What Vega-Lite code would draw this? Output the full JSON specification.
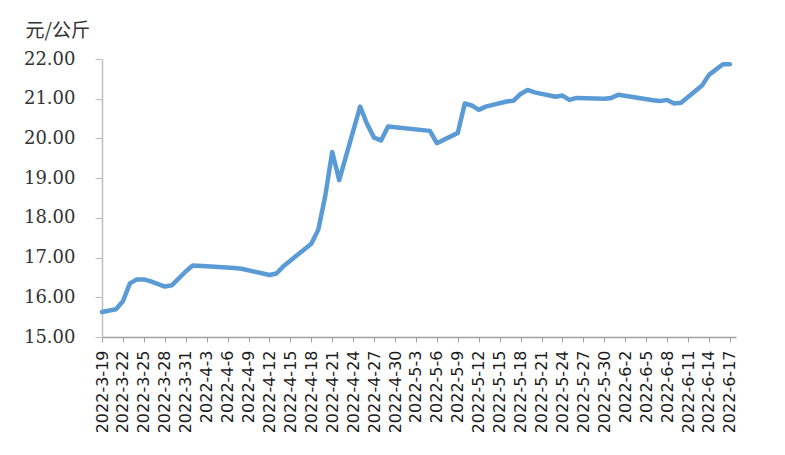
{
  "$schema": "https://vega.github.io/schema/vega-lite/v6.json",
  "autosize": {"type": "none"},
  "padding": {"left": 102, "top": 59, "right": 49, "bottom": 118},
  "width": 634,
  "height": 278,
  "background": "white",
  "config": {"view": {"stroke": null}},
  "data": {"values": [
    {"date": "2022-03-19", "price": 15.63},
    {"date": "2022-03-21", "price": 15.70},
    {"date": "2022-03-22", "price": 15.90},
    {"date": "2022-03-23", "price": 16.35},
    {"date": "2022-03-24", "price": 16.45},
    {"date": "2022-03-25", "price": 16.45},
    {"date": "2022-03-26", "price": 16.40},
    {"date": "2022-03-28", "price": 16.27},
    {"date": "2022-03-29", "price": 16.30},
    {"date": "2022-03-31", "price": 16.65},
    {"date": "2022-04-01", "price": 16.80},
    {"date": "2022-04-03", "price": 16.78},
    {"date": "2022-04-07", "price": 16.74},
    {"date": "2022-04-08", "price": 16.72},
    {"date": "2022-04-12", "price": 16.56},
    {"date": "2022-04-13", "price": 16.60},
    {"date": "2022-04-14", "price": 16.78},
    {"date": "2022-04-18", "price": 17.35},
    {"date": "2022-04-19", "price": 17.70},
    {"date": "2022-04-20", "price": 18.55},
    {"date": "2022-04-21", "price": 19.66},
    {"date": "2022-04-22", "price": 18.95},
    {"date": "2022-04-25", "price": 20.80},
    {"date": "2022-04-26", "price": 20.36},
    {"date": "2022-04-27", "price": 20.02},
    {"date": "2022-04-28", "price": 19.95},
    {"date": "2022-04-29", "price": 20.30},
    {"date": "2022-05-05", "price": 20.19},
    {"date": "2022-05-06", "price": 19.88},
    {"date": "2022-05-09", "price": 20.14},
    {"date": "2022-05-10", "price": 20.88},
    {"date": "2022-05-11", "price": 20.83},
    {"date": "2022-05-12", "price": 20.72},
    {"date": "2022-05-13", "price": 20.80},
    {"date": "2022-05-16", "price": 20.93},
    {"date": "2022-05-17", "price": 20.95},
    {"date": "2022-05-18", "price": 21.12},
    {"date": "2022-05-19", "price": 21.22},
    {"date": "2022-05-20", "price": 21.16},
    {"date": "2022-05-23", "price": 21.05},
    {"date": "2022-05-24", "price": 21.08},
    {"date": "2022-05-25", "price": 20.97},
    {"date": "2022-05-26", "price": 21.02},
    {"date": "2022-05-30", "price": 21.00},
    {"date": "2022-05-31", "price": 21.02},
    {"date": "2022-06-01", "price": 21.10},
    {"date": "2022-06-06", "price": 20.96},
    {"date": "2022-06-07", "price": 20.94},
    {"date": "2022-06-08", "price": 20.97},
    {"date": "2022-06-09", "price": 20.88},
    {"date": "2022-06-10", "price": 20.90},
    {"date": "2022-06-13", "price": 21.33},
    {"date": "2022-06-14", "price": 21.60},
    {"date": "2022-06-16", "price": 21.87},
    {"date": "2022-06-17", "price": 21.87}
  ]},
  "mark": {"type": "line", "color": "#5B9BD5", "strokeWidth": 4.5, "strokeJoin": "round", "strokeCap": "round"},
  "encoding": {
    "x": {
      "field": "date",
      "type": "temporal",
      "scale": {
        "type": "utc",
        "domain": [
          {"year": 2022, "month": 3, "date": 19, "utc": true},
          {"year": 2022, "month": 6, "date": 17, "hours": 21, "utc": true}
        ]
      },
      "axis": {
        "title": null,
        "format": "%Y-%-m-%-d",
        "values": [
          {"year": 2022, "month": 3, "date": 19, "utc": true},
          {"year": 2022, "month": 3, "date": 22, "utc": true},
          {"year": 2022, "month": 3, "date": 25, "utc": true},
          {"year": 2022, "month": 3, "date": 28, "utc": true},
          {"year": 2022, "month": 3, "date": 31, "utc": true},
          {"year": 2022, "month": 4, "date": 3, "utc": true},
          {"year": 2022, "month": 4, "date": 6, "utc": true},
          {"year": 2022, "month": 4, "date": 9, "utc": true},
          {"year": 2022, "month": 4, "date": 12, "utc": true},
          {"year": 2022, "month": 4, "date": 15, "utc": true},
          {"year": 2022, "month": 4, "date": 18, "utc": true},
          {"year": 2022, "month": 4, "date": 21, "utc": true},
          {"year": 2022, "month": 4, "date": 24, "utc": true},
          {"year": 2022, "month": 4, "date": 27, "utc": true},
          {"year": 2022, "month": 4, "date": 30, "utc": true},
          {"year": 2022, "month": 5, "date": 3, "utc": true},
          {"year": 2022, "month": 5, "date": 6, "utc": true},
          {"year": 2022, "month": 5, "date": 9, "utc": true},
          {"year": 2022, "month": 5, "date": 12, "utc": true},
          {"year": 2022, "month": 5, "date": 15, "utc": true},
          {"year": 2022, "month": 5, "date": 18, "utc": true},
          {"year": 2022, "month": 5, "date": 21, "utc": true},
          {"year": 2022, "month": 5, "date": 24, "utc": true},
          {"year": 2022, "month": 5, "date": 27, "utc": true},
          {"year": 2022, "month": 5, "date": 30, "utc": true},
          {"year": 2022, "month": 6, "date": 2, "utc": true},
          {"year": 2022, "month": 6, "date": 5, "utc": true},
          {"year": 2022, "month": 6, "date": 8, "utc": true},
          {"year": 2022, "month": 6, "date": 11, "utc": true},
          {"year": 2022, "month": 6, "date": 14, "utc": true},
          {"year": 2022, "month": 6, "date": 17, "utc": true}
        ],
        "labelAngle": 270,
        "labelAlign": "right",
        "labelBaseline": "middle",
        "labelOverlap": false,
        "labelFlush": false,
        "labelFont": "DejaVu Sans",
        "labelFontSize": 16,
        "labelColor": "#1a1a1a",
        "labelPadding": 8,
        "tickSize": 5,
        "tickColor": "#A0A0A0",
        "domainColor": "#A0A0A0",
        "domainWidth": 1.5,
        "grid": false
      }
    },
    "y": {
      "field": "price",
      "type": "quantitative",
      "scale": {"domain": [15, 22], "nice": false, "zero": false},
      "axis": {
        "title": "元/公斤",
        "titleAngle": 0,
        "titleAlign": "left",
        "titleBaseline": "alphabetic",
        "titleX": -77,
        "titleY": -23,
        "titleFont": "Noto Sans CJK SC",
        "titleFontSize": 19,
        "titleFontWeight": "normal",
        "titleColor": "#333333",
        "values": [15, 16, 17, 18, 19, 20, 21, 22],
        "format": ".2f",
        "labelFont": "DejaVu Serif",
        "labelFontSize": 18,
        "labelColor": "#333333",
        "labelPadding": 20,
        "tickSize": 7,
        "tickColor": "#BFBFBF",
        "domainColor": "#BFBFBF",
        "domainWidth": 1.5,
        "grid": false
      }
    }
  }
}
